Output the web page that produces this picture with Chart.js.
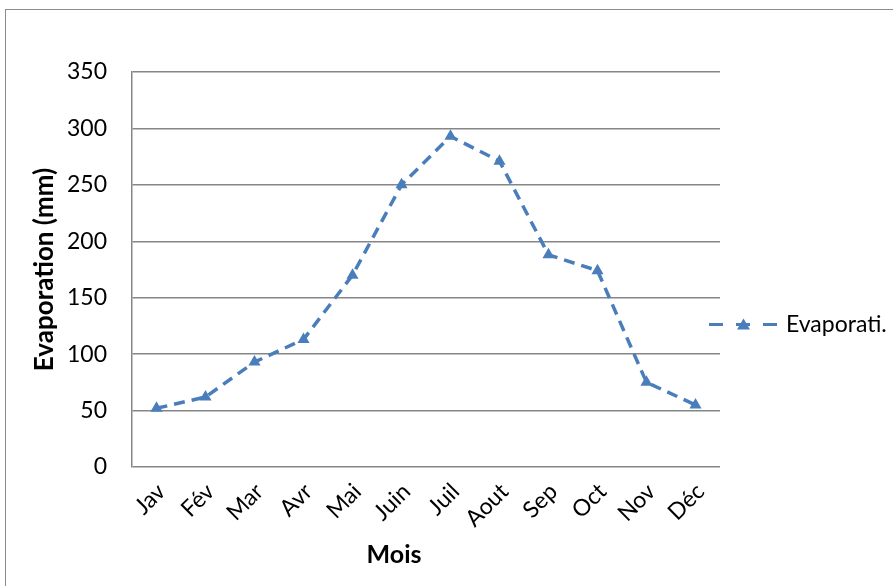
<!DOCTYPE html>
<html lang="fr">
<head>
<meta charset="utf-8">
<title>Evaporation</title>
<script src="https://cdn.jsdelivr.net/npm/chart.js@4.4.1/dist/chart.umd.min.js"></script>
<style>
    html, body { margin: 0; padding: 0; background: #fff; overflow: hidden; }
    #wrap { position: relative; width: 893px; height: 586px; }
    #frame {
        position: absolute; left: 5px; top: 9px; width: 1000px; height: 1000px;
        border: 1px solid #8c8c8c; box-sizing: border-box;
    }
    canvas { position: absolute; left: 0; top: 0; }
</style>
</head>
<body>
<div id="wrap">
    <div id="frame"></div>
    <canvas id="evapChart" width="893" height="586"></canvas>
</div>
<script>
// données
const mois = ['Jav', 'Fév', 'Mar', 'Avr', 'Mai', 'Juin', 'Juil', 'Aout', 'Sep', 'Oct', 'Nov', 'Déc'];
const evaporation = [52, 62, 93, 113, 170, 250, 293, 271, 188, 174, 75, 55];
const yTicks = [0, 50, 100, 150, 200, 250, 300, 350];

const bleu = '#4a7ebb';
const gris = '#868686';
const police = "Lato, 'Open Sans', sans-serif";

// légende + titre de l'axe X dessinés à la main (style Excel)
const excelExtras = {
    id: 'excelExtras',
    afterDraw(chart) {
        const ctx = chart.ctx;
        const area = chart.chartArea;
        ctx.save();
        // légende
        const ly = (area.top + area.bottom) / 2 + 55;
        ctx.strokeStyle = bleu;
        ctx.lineWidth = 3;
        ctx.setLineDash([14, 13]);
        ctx.beginPath();
        ctx.moveTo(709, ly);
        ctx.lineTo(778, ly);
        ctx.stroke();
        ctx.setLineDash([]);
        ctx.fillStyle = bleu;
        ctx.beginPath();
        ctx.moveTo(743.5, ly - 6);
        ctx.lineTo(750, ly + 5);
        ctx.lineTo(737, ly + 5);
        ctx.closePath();
        ctx.fill();
        ctx.fillStyle = '#000';
        ctx.font = '23px ' + police;
        ctx.textAlign = 'left';
        ctx.textBaseline = 'middle';
        ctx.fillText('Evaporati.', 786, ly);
        // titre axe X
        ctx.font = 'bold 25px ' + police;
        ctx.textAlign = 'center';
        ctx.fillText('Mois', 394, 555);
        ctx.restore();
    }
};

document.addEventListener('DOMContentLoaded', () => {
    const ctx = document.getElementById('evapChart').getContext('2d');

    new Chart(ctx, {
        type: 'line',
        data: {
            labels: mois,
            datasets: [{
                label: 'Evaporation',
                data: evaporation,
                borderColor: bleu,
                backgroundColor: bleu,
                borderWidth: 3.5,
                borderDash: [11, 7],
                pointStyle: 'triangle',
                pointRadius: 7,
                pointBorderWidth: 0,
                pointBackgroundColor: bleu,
                tension: 0,
                fill: false
            }]
        },
        options: {
            responsive: false,
            animation: false,
            events: [],
            layout: { padding: { left: 0, right: 173, top: 72, bottom: 0 } },
            plugins: {
                legend: { display: false },
                tooltip: { enabled: false }
            },
            scales: {
                x: {
                    offset: true,
                    grid: { display: false, drawTicks: false },
                    border: { display: false },
                    ticks: {
                        color: '#000',
                        font: { family: police, size: 23 },
                        minRotation: 45,
                        maxRotation: 45,
                        labelOffset: 5,
                        padding: 11
                    },
                    afterFit(scale) { scale.height = 119; }
                },
                y: {
                    min: 0,
                    max: 350,
                    afterBuildTicks(scale) {
                        scale.ticks = yTicks.map(v => ({ value: v }));
                    },
                    grid: { color: gris, lineWidth: 1.5, drawTicks: false },
                    border: { display: true, color: gris, width: 1.5 },
                    ticks: {
                        color: '#000',
                        font: { family: police, size: 23 },
                        padding: 25
                    },
                    title: {
                        display: true,
                        text: 'Evaporation (mm)',
                        color: '#000',
                        font: { family: police, size: 26, weight: 'bold' },
                        padding: { top: 29, bottom: 0 }
                    },
                    afterFit(scale) { scale.width = 132; }
                }
            }
        },
        plugins: [excelExtras]
    });
});
</script>
</body>
</html>
